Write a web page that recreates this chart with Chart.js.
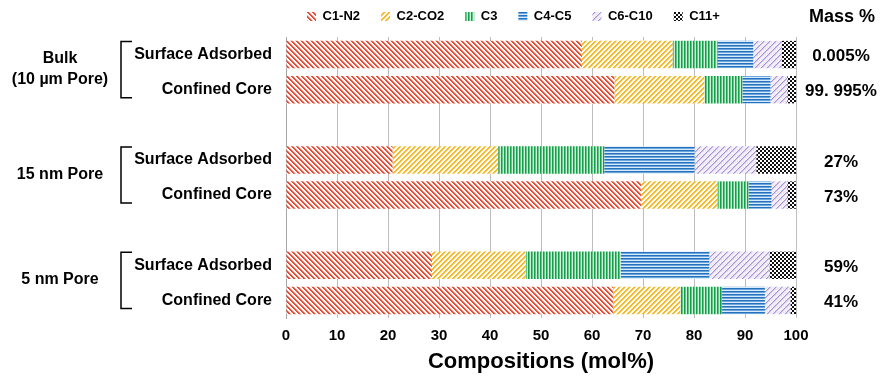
<!DOCTYPE html>
<html>
<head>
<meta charset="utf-8">
<script src="https://cdn.jsdelivr.net/npm/chart.js@4.4.1/dist/chart.umd.min.js"></script>
<style>
  html, body { margin: 0; padding: 0; background: #fff; }
  #wrap { width: 881px; height: 377px; position: relative; }
</style>
</head>
<body>
<div id="wrap"><canvas id="chart"></canvas></div>
<script>
// rows: two per pore size, empty slot between groups
const rowLabels = ['Surface Adsorbed', 'Confined Core', '', 'Surface Adsorbed', 'Confined Core', '', 'Surface Adsorbed', 'Confined Core'];
const groupLabels = [['Bulk', '(10 µm Pore)'], ['15 nm Pore'], ['5 nm Pore']];
const groupRows = [0, 3, 6];
const massPct = ['0.005%', '99. 995%', '', '27%', '73%', '', '59%', '41%'];

const seriesNames = ['C1-N2', 'C2-CO2', 'C3', 'C4-C5', 'C6-C10', 'C11+'];
const c1n2 = [58.0, 64.4, null, 20.9, 69.6, null, 28.6, 64.1];
const c2co2 = [17.8, 17.6, null, 20.7, 15.0, null, 18.4, 13.2];
const c3 = [8.8, 7.5, null, 20.8, 6.1, null, 18.6, 8.2];
const c4c5 = [7.0, 5.5, null, 17.7, 4.5, null, 17.4, 8.4];
const c6c10 = [5.6, 3.3, null, 12.1, 3.1, null, 11.8, 5.0];
const c11 = [2.8, 1.7, null, 7.8, 1.7, null, 5.2, 1.1];

const FONT = '"Liberation Sans", Arial, sans-serif';

// small pixel tiles used as fill patterns
function makePattern(size, pick) {
  const tile = document.createElement('canvas');
  tile.width = tile.height = size;
  const g = tile.getContext('2d');
  g.fillStyle = '#fff';
  g.fillRect(0, 0, size, size);
  for (let y = 0; y < size; y++) {
    for (let x = 0; x < size; x++) {
      const col = pick(x, y);
      if (col) {
        g.fillStyle = col;
        g.fillRect(x, y, 1, 1);
      }
    }
  }
  return g.createPattern(tile, 'repeat');
}

const patterns = [
  // red, downward diagonal
  makePattern(5, (x, y) => {
    const d = (x - y + 50) % 5;
    return d < 2 ? '#e1503a' : d === 2 ? '#f3b2a4' : null;
  }),
  // yellow, upward diagonal
  makePattern(5, (x, y) => {
    const d = (x + y) % 5;
    return d < 2 ? '#f1bb2c' : d === 2 ? '#f9df9c' : null;
  }),
  // green, vertical lines
  makePattern(3, (x) => ['#1c9a4e', '#5ec986', '#d0efda'][x]),
  // blue, horizontal lines
  makePattern(3, (x, y) => ['#2571bd', '#6ba7dc', '#dbeaf8'][y]),
  // purple, light dashed diagonal
  makePattern(6, (x, y) => {
    const d = (x + y) % 6;
    if (d === 0) return '#a891d6';
    if (d === 1) return '#d6c9ee';
    return (x + 2 * y) % 6 === 3 ? '#e6ddf4' : '#f4f0fa';
  }),
  // black checker
  makePattern(4, (x, y) => (((x >> 1) + (y >> 1)) % 2 ? '#111' : null)),
];

const seriesData = [c1n2, c2co2, c3, c4c5, c6c10, c11];

// legend sits in a short band above the plot
const legendFit = {
  id: 'legendFit',
  beforeInit(chart) {
    const fit = chart.legend.fit;
    chart.legend.fit = function () {
      fit.call(this);
      this.height = 48;
    };
  },
};

// group names, brackets and mass % column
const sideText = {
  id: 'sideText',
  afterDraw(chart) {
    const { ctx, chartArea, scales: { y } } = chart;
    ctx.save();
    ctx.fillStyle = '#000';
    ctx.strokeStyle = '#000';
    ctx.lineWidth = 1.5;
    ctx.textAlign = 'center';
    ctx.textBaseline = 'middle';
    ctx.font = 'bold 16px ' + FONT;
    groupRows.forEach((r, i) => {
      const y0 = y.getPixelForValue(r);
      const y1 = y.getPixelForValue(r + 1);
      const top = y0 - 13;
      const bot = y1 + 8;
      ctx.beginPath();
      ctx.moveTo(132, top);
      ctx.lineTo(121, top);
      ctx.lineTo(121, bot);
      ctx.lineTo(132, bot);
      ctx.stroke();
      const lines = groupLabels[i];
      const mid = (y0 + y1) / 2 - 3;
      lines.forEach((t, k) => {
        ctx.fillText(t, 60, mid + (k - (lines.length - 1) / 2) * 21);
      });
    });
    ctx.font = 'bold 17px ' + FONT;
    massPct.forEach((t, i) => {
      if (t) ctx.fillText(t, chartArea.right + 45, y.getPixelForValue(i) + 2);
    });
    ctx.font = 'bold 18px ' + FONT;
    ctx.fillText('Mass %', chartArea.right + 46, 17);
    ctx.restore();
  },
};

new Chart(document.getElementById('chart'), {
  type: 'bar',
  data: {
    labels: rowLabels,
    datasets: seriesNames.map((name, i) => ({
      label: name,
      data: seriesData[i],
      backgroundColor: patterns[i],
      borderWidth: 0,
      categoryPercentage: 1,
      barPercentage: 0.78,
    })),
  },
  options: {
    indexAxis: 'y',
    responsive: true,
    maintainAspectRatio: false,
    devicePixelRatio: 1,
    animation: false,
    layout: {
      padding: { left: 0, right: 85, top: -11, bottom: 0 },
    },
    scales: {
      x: {
        stacked: true,
        min: 0,
        max: 100,
        z: 1,
        afterFit: (scale) => { scale.height = 59; },
        ticks: {
          stepSize: 10,
          color: '#000',
          padding: 9,
          font: { family: FONT, size: 15, weight: 'bold' },
        },
        grid: {
          color: '#bdbdbd',
          drawTicks: false,
        },
        border: { display: false },
        title: {
          display: true,
          text: 'Compositions (mol%)',
          color: '#000',
          padding: { top: 0, bottom: 2 },
          font: { family: FONT, size: 22, weight: 'bold' },
        },
      },
      y: {
        stacked: true,
        afterFit: (scale) => { scale.width = 286; },
        ticks: {
          color: '#000',
          padding: 14,
          font: { family: FONT, size: 16, weight: 'bold' },
        },
        grid: { display: false, drawTicks: false },
        border: { display: true, color: '#a6a6a6' },
      },
    },
    plugins: {
      legend: {
        display: true,
        position: 'top',
        align: 'start',
        fullSize: false,
        labels: {
          color: '#000',
          boxWidth: 9,
          boxHeight: 9,
          padding: 21,
          font: { family: FONT, size: 13, weight: 'bold' },
        },
      },
      tooltip: { enabled: false },
    },
  },
  plugins: [legendFit, sideText],
});
</script>
</body>
</html>
